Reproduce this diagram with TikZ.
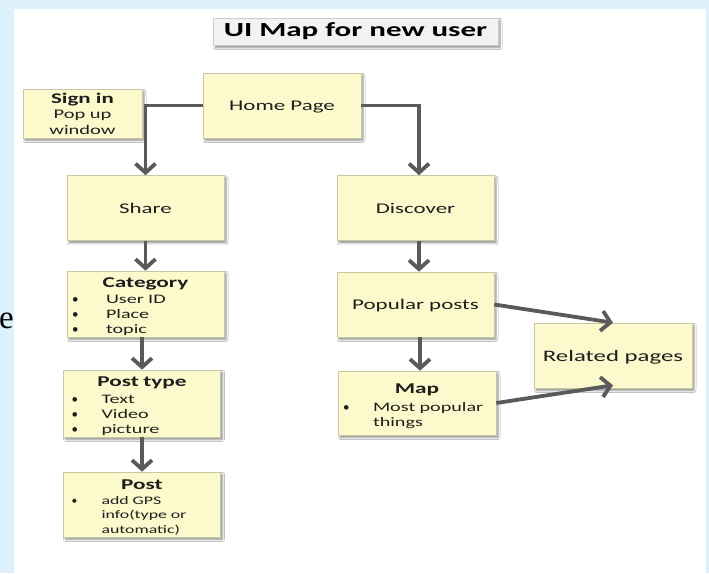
\documentclass[tikz,border=0pt]{standalone}
\usepackage{fontspec}
\setmainfont{Carlito}[FakeStretch=1.55]
\newfontfamily\plainface{Carlito}
\newfontfamily\serifface{Liberation Serif}
\usetikzlibrary{arrows.meta,shadows.blur}

\definecolor{pageblue}{RGB}{220,241,251}
\definecolor{boxfill}{RGB}{252,250,204}
\definecolor{boxline}{RGB}{200,200,165}
\definecolor{titlefill}{RGB}{242,242,242}
\definecolor{titleline}{RGB}{205,205,205}
\definecolor{linkgrey}{RGB}{90,90,90}
\definecolor{inkdark}{RGB}{30,30,30}

% font size with leading
\newcommand\fsz[2]{\fontsize{#1}{#2}\selectfont}
% bullet in a box of given width
\newcommand\bul[1]{\makebox[#1][l]{\plainface\textbullet}}
% centred bold heading line with extra room above it
\newcommand\boxhead[2]{{\centering\fsz{15}{17}\bfseries\rule{0pt}{#1}#2\par}}

\tikzset{
  panel/.style={rectangle, draw=boxline, fill=boxfill, line width=0.6pt,
    inner sep=0pt, minimum width=157pt, minimum height=65pt, text=inkdark,
    font=\fsz{14.8}{17},
    blur shadow={shadow xshift=2pt, shadow yshift=-2.4pt,
      shadow blur radius=2pt, shadow opacity=45}},
  single/.style={panel, text depth=0pt},
  listpanel/.style={panel, inner xsep=5pt, text width=147pt, align=left},
  link/.style={draw=linkgrey, line width=3.8pt,
    -{Straight Barb[length=9pt,width=20pt]}},
}

\begin{document}
\begin{tikzpicture}[x=1pt,y=-1pt]
\useasboundingbox (0,0) rectangle (709,573);
\fill[pageblue] (0,0) rectangle (709,573);
\fill[white] (14,9) rectangle (706,573);

% stray letter at the left margin
\node[anchor=base west, inner sep=0pt, text=black, font=\serifface\fsz{33}{33}]
  (edgeletter) at (-1,328) {e};

% title
\node[rectangle, draw=titleline, fill=titlefill, line width=0.6pt,
  minimum width=285pt, minimum height=27pt, inner sep=0pt, text=black,
  font=\fsz{20}{22}\bfseries,
  blur shadow={shadow xshift=2pt, shadow yshift=-2.4pt,
    shadow blur radius=2pt, shadow opacity=45}]
  (title) at (355.5,31.5) {UI Map for new user};

% boxes
\node[single, minimum width=158pt] (home) at (282,105.5) {Home Page};
\node[panel, minimum width=119pt, minimum height=49pt, align=center,
  font=\fsz{13.2}{15.5}] (signin) at (82.5,113.5)
  {{\fsz{14.8}{16}\bfseries Sign in}\\Pop up\\window};
\node[single] (share) at (145.5,208) {Share};
\node[single] (discover) at (415.5,208) {Discover};

\node[listpanel, minimum height=66pt, font=\fsz{13}{15.2}] (category) at (145.5,304)
  {\boxhead{15pt}{Category}\vspace{1pt}%
   \bul{34pt}User ID\\\bul{34pt}Place\\\bul{34pt}topic};
\node[listpanel, minimum height=67pt, font=\fsz{13}{15.2}] (posttype) at (142,403.5)
  {\boxhead{15pt}{Post type}\vspace{1.5pt}%
   \hspace*{3pt}\bul{30pt}Text\\\hspace*{3pt}\bul{30pt}Video\\\hspace*{3pt}\bul{30pt}picture};
\node[listpanel, font=\fsz{11.5}{14.5}] (post) at (142,504.5)
  {\boxhead{16pt}{Post}%
   \hspace*{3pt}\bul{30pt}add GPS\\\hspace*{33pt}info(type or\\\hspace*{33pt}automatic)};

\node[single] (popular) at (415.5,304.5) {Popular posts};
\node[listpanel, minimum width=158pt, text width=148pt, minimum height=64pt,
  font=\fsz{13}{15.5}] (map) at (417,403)
  {\boxhead{17pt}{Map}\vspace{2pt}%
   \bul{30pt}Most popular\\\hspace*{30pt}things};
\node[single, minimum width=158pt, font=\fsz{16}{18}] (related) at (613,355.5) {Related pages};

% connectors
\draw[link] (home.west) -| (share.north);
\draw[link] (home.east) -| ([xshift=3.5pt]discover.north);
\draw[link] (share.south) -- (category.north);
\draw[link] (posttype.north |- category.south) -- (posttype.north);
\draw[link] (posttype.south) -- (post.north);
\draw[link] ([xshift=3.5pt]discover.south) -- ([xshift=3.5pt]popular.north);
\draw[link] ([xshift=4.5pt]popular.south) -- ([xshift=4.5pt]popular.south |- map.north);
\draw[link] (popular.east) -- (related.north);
\draw[link] (map.east) -- ([yshift=3pt]related.south);
\end{tikzpicture}
\end{document}
